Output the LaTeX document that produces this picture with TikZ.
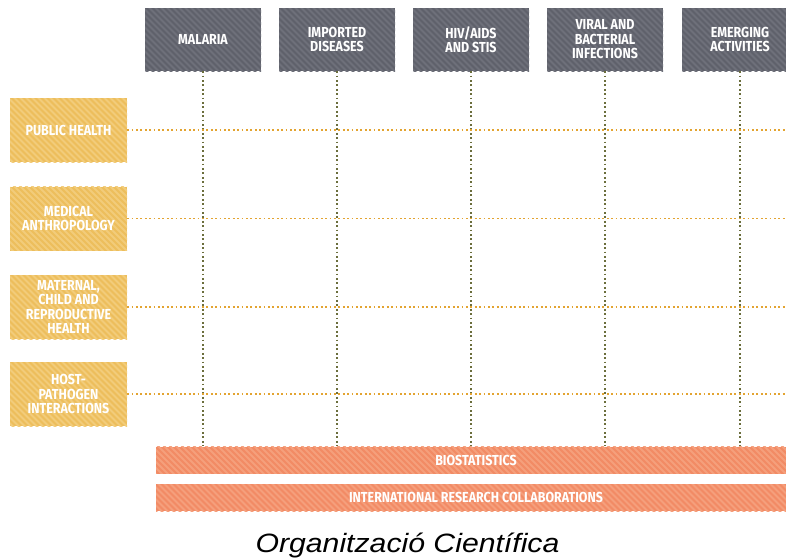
\documentclass[tikz,border=0pt]{standalone}
\usepackage{fontspec}
\setmainfont{Fira Sans}[FakeStretch=0.86]
\newfontfamily\capfont{Liberation Sans}[FakeStretch=1.14]
\definecolor{greybase}{HTML}{5F616B}
\definecolor{greystripe}{HTML}{6E707A}
\definecolor{yelbase}{HTML}{EDBE5C}
\definecolor{yelstripe}{HTML}{F2CC7A}
\definecolor{orbase}{HTML}{F28B65}
\definecolor{orstripe}{HTML}{F59F7C}
\definecolor{hdot}{HTML}{E3A431}
\definecolor{vdot}{HTML}{6B6E3C}
\tikzset{
  lbl/.style={text=white, font=\bfseries\fontsize{14.5}{14.5}\selectfont, align=center, inner sep=0pt},
  stripes/.style={path picture={
    \foreach \i in {-700,-694,...,700}{
      \draw[#1, line width=2pt]
        ([xshift=\i pt]path picture bounding box.center) ++(-120pt,120pt) -- ++(240pt,-240pt);
    }}},
  topbox/.style={lbl, minimum width=116pt, minimum height=63pt, fill=greybase, stripes=greystripe},
  sidebox/.style={lbl, minimum width=117pt, minimum height=64pt, fill=yelbase, stripes=yelstripe},
  barbox/.style={lbl, minimum width=640pt, minimum height=27pt, fill=orbase, stripes=orstripe},
  hline/.style={draw=hdot, line width=1.8pt, dash pattern=on 1.8pt off 2.6pt},
  vline/.style={draw=vdot, line width=1.8pt, dash pattern=on 1.8pt off 2.6pt},
}
\begin{document}
\begin{tikzpicture}[x=1pt,y=-1pt]
\useasboundingbox[fill=white] (0,0) rectangle (786,558);
% top boxes
\node[topbox] (t1) at (203,39.5) {MALARIA};
\node[topbox] (t2) at (337,39.5) {IMPORTED\\DISEASES};
\node[topbox] (t3) at (471,39.5) {HIV/AIDS\\AND STIS};
\node[topbox] (t4) at (605,39.5) {VIRAL AND\\BACTERIAL\\INFECTIONS};
\node[topbox] (t5) at (740,39.5) {EMERGING\\ACTIVITIES};
% side boxes
\node[sidebox] (s1) at (68.5,130) {PUBLIC HEALTH};
\node[sidebox] (s2) at (68.5,218.5) {MEDICAL\\ANTHROPOLOGY};
\node[sidebox] (s3) at (68.5,307) {MATERNAL,\\CHILD AND\\REPRODUCTIVE\\HEALTH};
\node[sidebox] (s4) at (68.5,394) {HOST-\\PATHOGEN\\INTERACTIONS};
% bars
\node[barbox] (b1) at (476,460) {BIOSTATISTICS};
\node[barbox] (b2) at (476,497.5) {INTERNATIONAL RESEARCH COLLABORATIONS};
% vertical dotted lines
\foreach \t in {t1,t2,t3,t4,t5}{
  \coordinate (\t e) at (\t.south |- 0,446);
  \draw[vline] (\t.south) -- (\t e);
}
% horizontal dotted lines
\foreach \s in {s1,s2,s3,s4}{
  \coordinate (\s e) at (\s.east -| 786,0);
  \draw[hline] (\s.east) -- (\s e);
}
% caption
\node[font=\capfont\itshape\fontsize{26.5}{30}\selectfont, text=black, inner sep=0pt, anchor=base] (cap) at (407.5,552) {Organització Científica};
\end{tikzpicture}
\end{document}
